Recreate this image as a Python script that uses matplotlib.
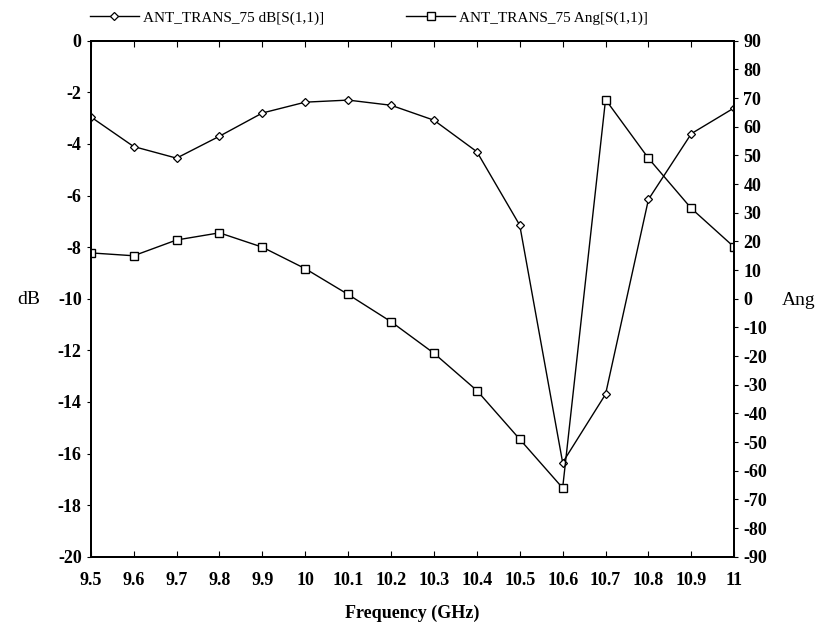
import matplotlib
matplotlib.use("Agg")
import matplotlib.pyplot as plt

plt.rcParams['font.family'] = ['Liberation Serif', 'DejaVu Serif']
plt.rcParams['axes.unicode_minus'] = False

# 주파수 (GHz)
freq = [9.5, 9.6, 9.7, 9.8, 9.9, 10.0, 10.1, 10.2, 10.3, 10.4, 10.5, 10.6, 10.7, 10.8, 10.9, 11.0]
# dB[S(1,1)]
s11_db = [-2.95, -4.1, -4.55, -3.7, -2.8, -2.38, -2.3, -2.5, -3.08, -4.3, -7.15, -16.35, -13.7, -6.15, -3.6, -2.6]
# Ang[S(1,1)]
s11_ang = [16, 15, 20.5, 23, 18, 10.5, 1.5, -8, -19, -32, -49, -66, 69.5, 49, 31.5, 18]

xticks = [9.5, 9.6, 9.7, 9.8, 9.9, 10, 10.1, 10.2, 10.3, 10.4, 10.5, 10.6, 10.7, 10.8, 10.9, 11]
xtick_labels = ["9.5", "9.6", "9.7", "9.8", "9.9", "10", "10.1", "10.2", "10.3", "10.4",
                "10.5", "10.6", "10.7", "10.8", "10.9", "11"]

fig = plt.figure(figsize=(8.25, 6.27), dpi=100)
ax1 = fig.add_axes([0.110, 0.112, 0.780, 0.823])
ax2 = ax1.twinx()

l1, = ax1.plot(freq, s11_db, color="black", lw=1.0, marker="D", markersize=4,
               markerfacecolor="white", markeredgecolor="black", markeredgewidth=0.9)
l2, = ax2.plot(freq, s11_ang, color="black", lw=1.0, marker="s", markersize=6,
               markerfacecolor="white", markeredgecolor="black", markeredgewidth=1.0)

ax1.set_xlim(9.5, 11)
ax1.set_ylim(-20, 0)
ax2.set_ylim(-90, 90)
ax1.set_xticks(xticks)
ax1.set_xticklabels(xtick_labels)
ax1.set_yticks(range(-20, 1, 2))
ax2.set_yticks(range(-90, 91, 10))

for ax in (ax1, ax2):
    for sp in ax.spines.values():
        sp.set_linewidth(1.4)

ax1.tick_params(axis="x", direction="in", top=True, length=4, pad=11, labelsize=13)
ax1.tick_params(axis="y", direction="out", length=3, labelsize=13)
ax2.tick_params(axis="y", direction="out", length=3, labelsize=13)
for lab in ax1.get_xticklabels() + ax1.get_yticklabels() + ax2.get_yticklabels():
    lab.set_fontweight("bold")

fig.text(0.5, 0.022, "Frequency (GHz)", ha="center", va="center", fontsize=13, fontweight="bold")
fig.text(0.035, 0.523, "dB", ha="center", va="center", fontsize=14)
fig.text(0.968, 0.521, "Ang", ha="center", va="center", fontsize=14)

fig.legend([l1, l2], ["ANT_TRANS_75 dB[S(1,1)]", "ANT_TRANS_75 Ang[S(1,1)]"],
           loc="upper left", bbox_to_anchor=(0.109, 0.983), ncol=2, frameon=False,
           borderpad=0, borderaxespad=0,
           fontsize=11, handlelength=3.2, handletextpad=0.25, columnspacing=5.4)

plt.savefig("out.png", dpi=100)
